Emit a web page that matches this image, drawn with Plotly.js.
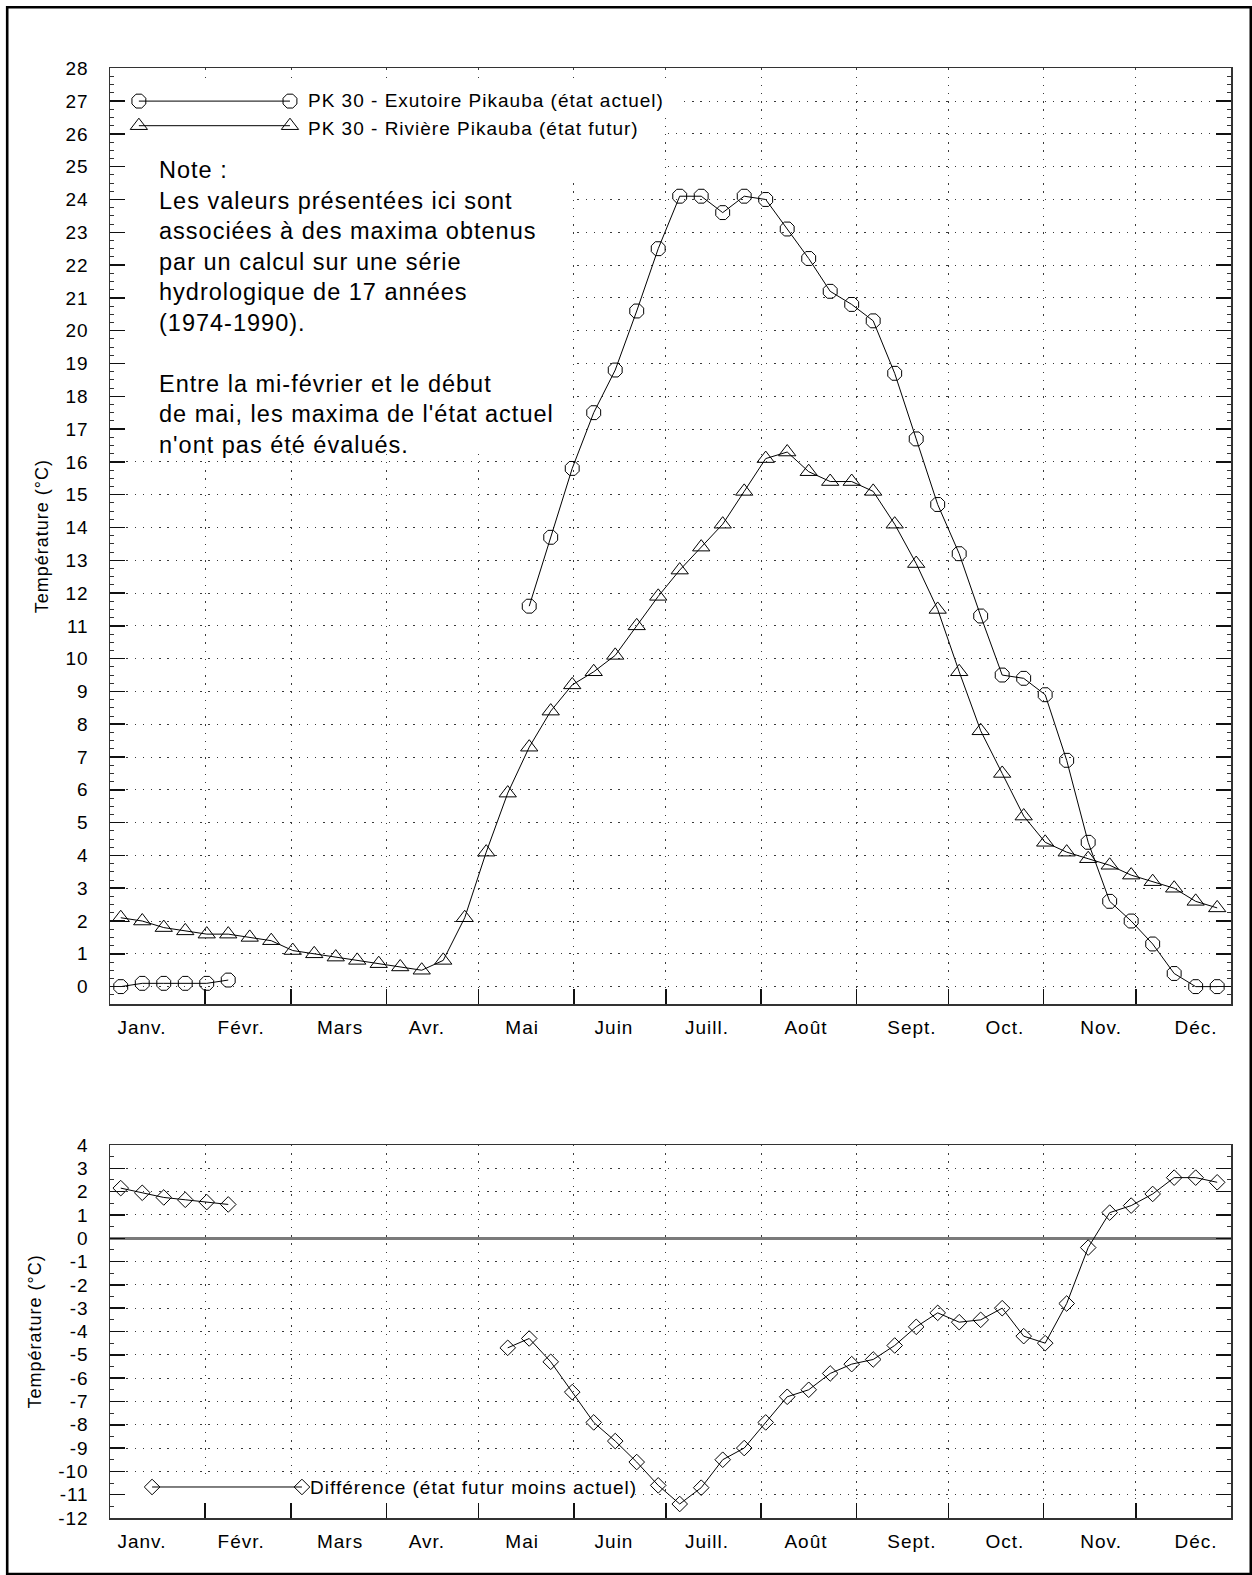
<!DOCTYPE html>
<html>
<head>
<meta charset="utf-8">
<script src="https://cdn.plot.ly/plotly-3.0.1.min.js"></script>
<style>
  html, body { margin: 0; padding: 0; background: #ffffff; }
  #chart { width: 1252px; height: 1575px; }
  /* slightly open letter spacing, as in Helvetica print output (applies to Plotly's measuring node too) */
  svg text { letter-spacing: 1px; }
</style>
</head>
<body>
<div id="chart"></div>
<script>
// Weekly maxima of water temperature at PK 30 (Pikauba), weeks 1..52 of the year
const weekNumbers = [1, 2, 3, 4, 5, 6, 7, 8, 9, 10, 11, 12, 13, 14, 15, 16, 17, 18, 19, 20,
  21, 22, 23, 24, 25, 26, 27, 28, 29, 30, 31, 32, 33, 34, 35, 36, 37, 38, 39, 40,
  41, 42, 43, 44, 45, 46, 47, 48, 49, 50, 51, 52];

// PK 30 - Exutoire Pikauba (état actuel); not evaluated from mid-February to early May
const currentState = [0.0, 0.1, 0.1, 0.1, 0.1, 0.2, null, null, null, null, null, null, null, null,
  null, null, null, null, null, 11.6, 13.7, 15.8, 17.5, 18.8, 20.6, 22.5, 24.1, 24.1, 23.6, 24.1,
  24.0, 23.1, 22.2, 21.2, 20.8, 20.3, 18.7, 16.7, 14.7, 13.2, 11.3, 9.5, 9.4, 8.9, 6.9, 4.4,
  2.6, 2.0, 1.3, 0.4, 0.0, 0.0];

// PK 30 - Rivière Pikauba (état futur)
const futureState = [2.1, 2.0, 1.8, 1.7, 1.6, 1.6, 1.5, 1.4, 1.1, 1.0, 0.9, 0.8, 0.7, 0.6, 0.5, 0.8,
  2.1, 4.1, 5.9, 7.3, 8.4, 9.2, 9.6, 10.1, 11.0, 11.9, 12.7, 13.4, 14.1, 15.1, 16.1, 16.3, 15.7,
  15.4, 15.4, 15.1, 14.1, 12.9, 11.5, 9.6, 7.8, 6.5, 5.2, 4.4, 4.1, 3.9, 3.7, 3.4, 3.2, 3.0, 2.6, 2.4];

// Différence (état futur moins actuel)
const difference = [2.15, 1.95, 1.75, 1.65, 1.55, 1.45, null, null, null, null, null, null, null, null,
  null, null, null, null, -4.7, -4.3, -5.3, -6.6, -7.9, -8.7, -9.6, -10.6, -11.4, -10.7, -9.5, -9.0,
  -7.9, -6.8, -6.5, -5.8, -5.4, -5.2, -4.6, -3.8, -3.2, -3.6, -3.5, -3.0, -4.2, -4.5, -2.8, -0.4,
  1.1, 1.4, 1.9, 2.6, 2.6, 2.4];

// Calendar: first day of each month (day of year, from Feb.) and month label anchors
const monthStartDays = [31, 59, 90, 120, 151, 181, 212, 243, 273, 304, 334];
const monthLabels = ['Janv.', 'Févr.', 'Mars', 'Avr.', 'Mai', 'Juin', 'Juill.', 'Août', 'Sept.', 'Oct.', 'Nov.', 'Déc.'];
const monthLabelDays = [10.4, 42.7, 74.9, 103.2, 134.2, 164.1, 194.4, 226.6, 261.1, 291.4, 322.7, 353.6];

const topTicks = [0, 1, 2, 3, 4, 5, 6, 7, 8, 9, 10, 11, 12, 13, 14, 15, 16, 17, 18, 19, 20,
  21, 22, 23, 24, 25, 26, 27, 28];
const bottomTicks = [-12, -11, -10, -9, -8, -7, -6, -5, -4, -3, -2, -1, 0, 1, 2, 3, 4];

const seriesNames = ['PK 30 - Exutoire Pikauba (état actuel)', 'PK 30 - Rivière Pikauba (état futur)',
  'Différence (état futur moins actuel)'];
const noteText = 'Note :<br>Les valeurs présentées ici sont<br>associées à des maxima obtenus<br>' +
  'par un calcul sur une série<br>hydrologique de 17 années<br>(1974-1990).<br> <br>' +
  'Entre la mi-février et le début<br>de mai, les maxima de l\'état actuel<br>n\'ont pas été évalués.';
const yTitle = 'Température (°C)';

// ---- page geometry (pixels) ----
const W = 1252, H = 1575;
const px = v => v / W;
const py = v => 1 - v / H;
const FONT = 'Liberation Sans, Arial, Helvetica, sans-serif';

// week n is plotted at the middle of its 7-day span
const weekDay = w => 7 * w - 3.5;
const days = weekNumbers.map(weekDay);

const lineStyle = { color: '#000000', width: 1 };
function markerStyle(symbol, size) {
  return { symbol: symbol, size: size, color: '#000000', line: { color: '#000000', width: 1 } };
}

const traces = [
  { x: days, y: currentState, xaxis: 'x', yaxis: 'y', mode: 'lines+markers', name: seriesNames[0],
    connectgaps: false, line: lineStyle, marker: markerStyle('octagon-open', 15), showlegend: false },
  { x: days, y: futureState, xaxis: 'x', yaxis: 'y', mode: 'lines+markers', name: seriesNames[1],
    line: lineStyle, marker: markerStyle('triangle-up-open', 15), showlegend: false },
  { x: days, y: difference, xaxis: 'x3', yaxis: 'y2', mode: 'lines+markers', name: seriesNames[2],
    connectgaps: false, line: lineStyle, marker: markerStyle('diamond-open', 12), showlegend: false },
  // key samples: a line between two symbols
  { x: [9.4, 58.6], y: [27, 27], xaxis: 'x', yaxis: 'y', mode: 'lines+markers', hoverinfo: 'skip',
    line: lineStyle, marker: markerStyle('octagon-open', 15), showlegend: false },
  { x: [9.4, 58.6], y: [26.25, 26.25], xaxis: 'x', yaxis: 'y', mode: 'lines+markers', hoverinfo: 'skip',
    line: lineStyle, marker: markerStyle('triangle-up-open', 15), showlegend: false },
  { x: [13.7, 62.5], y: [-10.67, -10.67], xaxis: 'x3', yaxis: 'y2', mode: 'lines+markers', hoverinfo: 'skip',
    line: lineStyle, marker: markerStyle('diamond-open', 12), showlegend: false },
  // carriers for the month-name axes
  { x: [0], y: [null], xaxis: 'x2', yaxis: 'y', mode: 'markers', hoverinfo: 'skip', showlegend: false },
  { x: [0], y: [null], xaxis: 'x4', yaxis: 'y2', mode: 'markers', hoverinfo: 'skip', showlegend: false }
];

const xDomain = [px(110), px(1231)];
const topDomain = [py(1004), py(68.3)];
const bottomDomain = [py(1518), py(1145)];
const GRID = { showgrid: true, gridcolor: '#3a3a3a', gridwidth: 1, griddash: '1.4px,6.8px' };

function monthTickAxis(anchor) {
  return Object.assign({
    domain: xDomain, anchor: anchor, range: [0, 365], type: 'linear',
    tickmode: 'array', tickvals: monthStartDays, ticktext: monthStartDays.map(() => ''),
    ticks: 'inside', ticklen: 15, tickwidth: 1.5, tickcolor: '#111111',
    showticklabels: false, zeroline: false,
    showline: true, linecolor: '#333333', linewidth: 1.5, mirror: true
  }, GRID);
}
function monthLabelAxis(over, anchor) {
  return {
    domain: xDomain, anchor: anchor, overlaying: over, range: [0, 365], type: 'linear',
    tickmode: 'array', tickvals: monthLabelDays, ticktext: monthLabels,
    ticks: '', showgrid: false, zeroline: false, showline: false,
    ticklabelstandoff: 10, tickfont: { family: FONT, size: 19, color: '#000000' }
  };
}
function valueAxis(domain, range, ticks, minorStep, zero, anchor) {
  return Object.assign({
    domain: domain, anchor: anchor, range: range, type: 'linear',
    tickmode: 'array', tickvals: ticks, ticktext: ticks.map(String),
    ticks: 'inside', ticklen: 15, tickwidth: 1.5, tickcolor: '#111111',
    minor: { tickmode: 'linear', tick0: 0, dtick: minorStep, ticks: 'inside', ticklen: 4,
      tickwidth: 1, tickcolor: '#333333', showgrid: false },
    showline: true, linecolor: '#333333', linewidth: 1.5, mirror: 'ticks',
    zeroline: zero, zerolinecolor: '#7a7a7a', zerolinewidth: 2.5,
    ticklabelstandoff: 16, tickfont: { family: FONT, size: 19, color: '#000000' },
    title: { text: yTitle, font: { family: FONT, size: 18, color: '#000000' }, standoff: 12 }
  }, GRID);
}

// white boxes behind the keys and the note text
const mask = (xr, yr, x0, x1, y0, y1) => ({ type: 'rect', xref: xr, yref: yr, layer: 'between',
  x0: x0, x1: x1, y0: y0, y1: y1, fillcolor: '#ffffff', line: { width: 0 } });

const keyFont = { family: FONT, size: 19, color: '#000000' };

const layout = {
  width: W, height: H,
  margin: { l: 0, r: 0, t: 0, b: 0 },
  paper_bgcolor: '#ffffff', plot_bgcolor: '#ffffff',
  font: { family: FONT, color: '#000000' },
  showlegend: false,
  xaxis: monthTickAxis('y'),
  xaxis2: monthLabelAxis('x', 'y'),
  xaxis3: monthTickAxis('y2'),
  xaxis4: monthLabelAxis('x3', 'y2'),
  yaxis: valueAxis(topDomain, [-0.53, 28], topTicks, 0.25, false, 'x'),
  yaxis2: valueAxis(bottomDomain, [-12, 4], bottomTicks, 0.5, true, 'x3'),
  shapes: [
    mask('x', 'y', 0.5, 185.6, 26.55, 27.6),
    mask('x', 'y', 0.5, 180.2, 24.5, 26.55),
    mask('x', 'y', 0.5, 150.6, 16.35, 24.5),
    mask('x3', 'y2', 0.5, 171, -11.97, -10.2),
    { type: 'rect', xref: 'paper', yref: 'paper', layer: 'above',
      x0: px(7.2), x1: px(1250.8), y0: py(1574), y1: py(7.2),
      line: { color: '#000000', width: 2.6 }, fillcolor: 'rgba(0,0,0,0)' }
  ],
  annotations: [
    { xref: 'paper', yref: 'paper', x: px(306), y: py(100), xanchor: 'left', yanchor: 'middle',
      text: seriesNames[0], showarrow: false, font: keyFont },
    { xref: 'paper', yref: 'paper', x: px(306), y: py(128), xanchor: 'left', yanchor: 'middle',
      text: seriesNames[1], showarrow: false, font: keyFont },
    { xref: 'paper', yref: 'paper', x: px(308), y: py(1487), xanchor: 'left', yanchor: 'middle',
      text: seriesNames[2], showarrow: false, font: keyFont },
    { xref: 'paper', yref: 'paper', x: px(157), y: py(307), xanchor: 'left', yanchor: 'middle',
      align: 'left', text: noteText, showarrow: false,
      font: { family: FONT, size: 23.5, color: '#000000' } }
  ]
};

Plotly.newPlot('chart', traces, layout, { staticPlot: true, displayModeBar: false });
</script>
</body>
</html>
